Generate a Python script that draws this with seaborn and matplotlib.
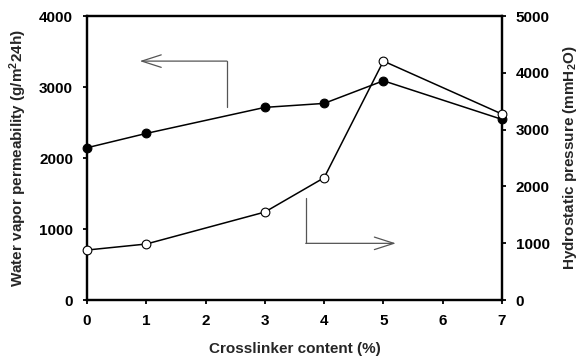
import matplotlib
matplotlib.use("Agg")
import matplotlib.pyplot as plt
import seaborn as sns
import pandas as pd

crosslinker = [0, 1, 3, 4, 5, 7]
wvp = [2145, 2347, 2714, 2770, 3089, 2545]
hydro = [880, 986, 1549, 2153, 4208, 3275]
x_ticks = [0, 1, 2, 3, 4, 5, 6, 7]
left_ticks = [0, 1000, 2000, 3000, 4000]
right_ticks = [0, 1000, 2000, 3000, 4000, 5000]

sns.set_theme(style="ticks")
plt.rcParams['font.family'] = ['Liberation Sans', 'DejaVu Sans']
plt.rcParams['font.weight'] = 'bold'
plt.rcParams['mathtext.fontset'] = 'custom'
plt.rcParams['mathtext.rm'] = 'Liberation Sans:bold'
plt.rcParams['mathtext.bf'] = 'Liberation Sans:bold'
plt.rcParams['mathtext.default'] = 'bf'

df = pd.DataFrame({"x": crosslinker, "wvp": wvp, "hydro": hydro})

fig = plt.figure(figsize=(5.81, 3.58), dpi=100)
ax = fig.add_axes([0.1497, 0.162, 0.864 - 0.1497, 0.955 - 0.162])
ax2 = ax.twinx()

sns.lineplot(data=df, x="x", y="wvp", ax=ax, color="black", lw=1.1,
             marker="o", markersize=6.3, markerfacecolor="black",
             markeredgecolor="black", markeredgewidth=0.8, zorder=5)
sns.lineplot(data=df, x="x", y="hydro", ax=ax2, color="black", lw=1.1,
             marker="o", markersize=6.3, markerfacecolor="white",
             markeredgecolor="black", markeredgewidth=0.8, zorder=5)

ax.set_xlim(0, 7)
ax.set_ylim(0, 4000)
ax2.set_ylim(0, 5000)
ax.set_xticks(x_ticks)
ax.set_yticks(left_ticks)
ax2.set_yticks(right_ticks)

fs = 11
for a in (ax, ax2):
    for s in a.spines.values():
        s.set_linewidth(1.6)
        s.set_color("black")
        s.set_visible(True)
    a.tick_params(direction="out", length=3, width=1.3, labelsize=fs, colors="black", pad=7)
    for lab in a.get_xticklabels() + a.get_yticklabels():
        lab.set_fontweight("bold")

ax.set_xlabel("Crosslinker content (%)", fontsize=fs, fontweight="bold", labelpad=10)
ax.set_ylabel("Water vapor permeability (g/m$^2$24h)", fontsize=fs, fontweight="bold", labelpad=7)
ax2.set_ylabel("Hydrostatic pressure (mmH$_2$O)", fontsize=fs, fontweight="bold", labelpad=8)

# Indicator arrows
acol = "#555555"
ax.plot([2.36, 2.36], [2718, 3366], color=acol, lw=0.9)
ax.annotate("", xy=(0.89, 3366), xytext=(2.36, 3366),
            arrowprops=dict(arrowstyle="->,head_length=1.4,head_width=0.45",
                            color=acol, lw=0.9, shrinkA=0, shrinkB=0, mutation_scale=10))
ax2.plot([3.69, 3.69], [1790, 998], color=acol, lw=0.9)
ax2.annotate("", xy=(5.21, 998), xytext=(3.69, 998),
             arrowprops=dict(arrowstyle="->,head_length=1.4,head_width=0.45",
                             color=acol, lw=0.9, shrinkA=0, shrinkB=0, mutation_scale=10))

for a in (ax, ax2):
    for line in a.lines:
        line.set_clip_on(False)

fig.savefig("out.png", dpi=100)
